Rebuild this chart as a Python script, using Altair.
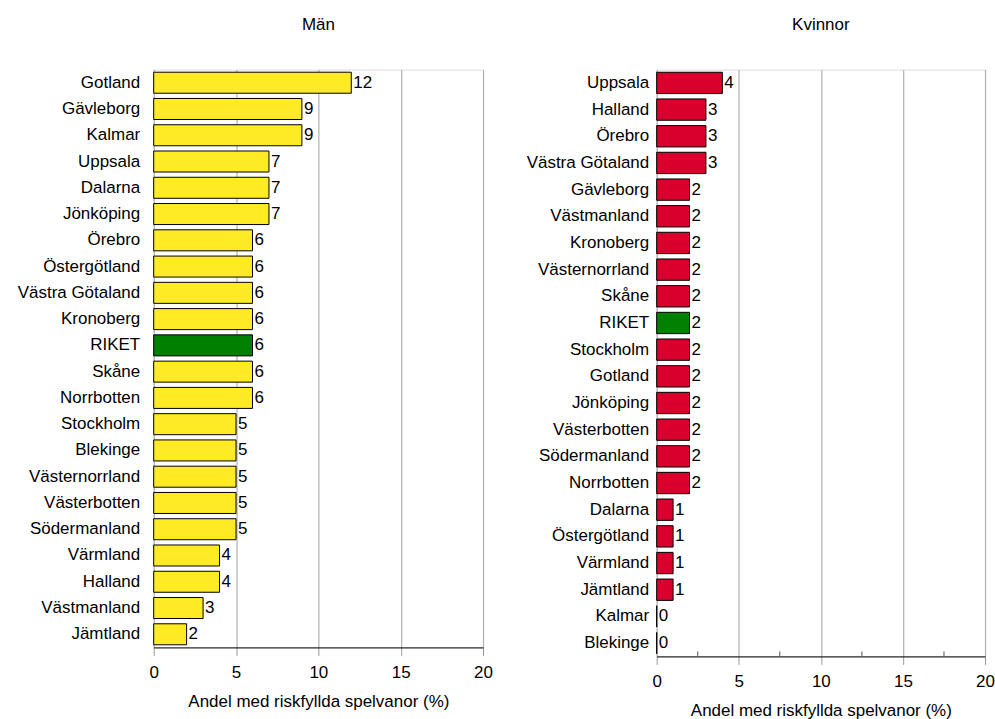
import altair as alt
import pandas as pd

men_regions = ["Gotland", "Gävleborg", "Kalmar", "Uppsala", "Dalarna", "Jönköping", "Örebro",
               "Östergötland", "Västra Götaland", "Kronoberg", "RIKET", "Skåne", "Norrbotten",
               "Stockholm", "Blekinge", "Västernorrland", "Västerbotten", "Södermanland",
               "Värmland", "Halland", "Västmanland", "Jämtland"]
men_values = [12, 9, 9, 7, 7, 7, 6, 6, 6, 6, 6, 6, 6, 5, 5, 5, 5, 5, 4, 4, 3, 2]

women_regions = ["Uppsala", "Halland", "Örebro", "Västra Götaland", "Gävleborg", "Västmanland",
                 "Kronoberg", "Västernorrland", "Skåne", "RIKET", "Stockholm", "Gotland",
                 "Jönköping", "Västerbotten", "Södermanland", "Norrbotten", "Dalarna",
                 "Östergötland", "Värmland", "Jämtland", "Kalmar", "Blekinge"]
women_values = [4, 3, 3, 3, 2, 2, 2, 2, 2, 2, 2, 2, 2, 2, 2, 2, 1, 1, 1, 1, 0, 0]

x_ticks = [0, 5, 10, 15, 20]
minor_ticks = [2.5, 7.5, 12.5, 17.5]
axis_title = "Andel med riskfyllda spelvanor (%)"

kind_domain = ["men", "women", "riket"]
kind_colors = ["#FFEB24", "#D9002E", "#008000"]

FONT = "Liberation Sans"
FS = 17


def panel(regions, values, title, kind, width, height, label_pad, minor=False):
    df = pd.DataFrame({
        "region": regions,
        "value": values,
        "kind": ["riket" if r == "RIKET" else kind for r in regions],
    })
    y = alt.Y("region:N", sort=None, title=None,
              scale=alt.Scale(paddingInner=0.2, paddingOuter=0.1),
              axis=alt.Axis(ticks=False, domain=False, labelFont=FONT, labelFontSize=FS,
                            labelColor="black", labelPadding=label_pad,
                            minExtent=140, maxExtent=140, labelLimit=200))
    x = alt.X("value:Q", title=axis_title,
              scale=alt.Scale(domain=[0, 20], nice=False),
              axis=alt.Axis(values=x_ticks, grid=True, gridColor="#b0b0b0", gridWidth=1.2,
                            domainColor="black", tickColor="#999999", tickSize=8,
                            labelFont=FONT, labelFontSize=FS, labelColor="black",
                            labelPadding=9, labelFlush=False,
                            titleFont=FONT, titleFontSize=FS, titleFontWeight="normal",
                            titleColor="black", titlePadding=13))
    base = alt.Chart(df)
    bars = base.mark_bar(stroke="black", strokeWidth=1).encode(
        x=x, y=y,
        color=alt.Color("kind:N", scale=alt.Scale(domain=kind_domain, range=kind_colors),
                        legend=None),
    )
    text = base.mark_text(align="left", baseline="middle", dx=2, font=FONT,
                          fontSize=FS, color="black").encode(
        x="value:Q", y=alt.Y("region:N", sort=None), text="value:Q")
    layers = [bars, text]
    if minor:
        mdf = pd.DataFrame({"m": minor_ticks})
        mt = alt.Chart(mdf).mark_rule(color="#555555", strokeWidth=1).encode(
            x="m:Q", y=alt.value(height), y2=alt.value(height - 5))
        layers.append(mt)
    return alt.layer(*layers).properties(
        width=width, height=height,
        title=alt.TitleParams(title, font=FONT, fontSize=FS, fontWeight="normal",
                              color="black", offset=36, anchor="middle"))


left = panel(men_regions, men_values, "Män", "men", 330, 579, 14)
right = panel(women_regions, women_values, "Kvinnor", "women", 329, 588, 8, minor=True)

chart = alt.hconcat(left, right, spacing=23).properties(
    padding={"left": 13, "top": 14, "right": 0, "bottom": 0}
).configure_view(stroke="black", strokeWidth=1).configure(background="white")

chart.save("out.html", embed_options={"renderer": "svg", "actions": False})
